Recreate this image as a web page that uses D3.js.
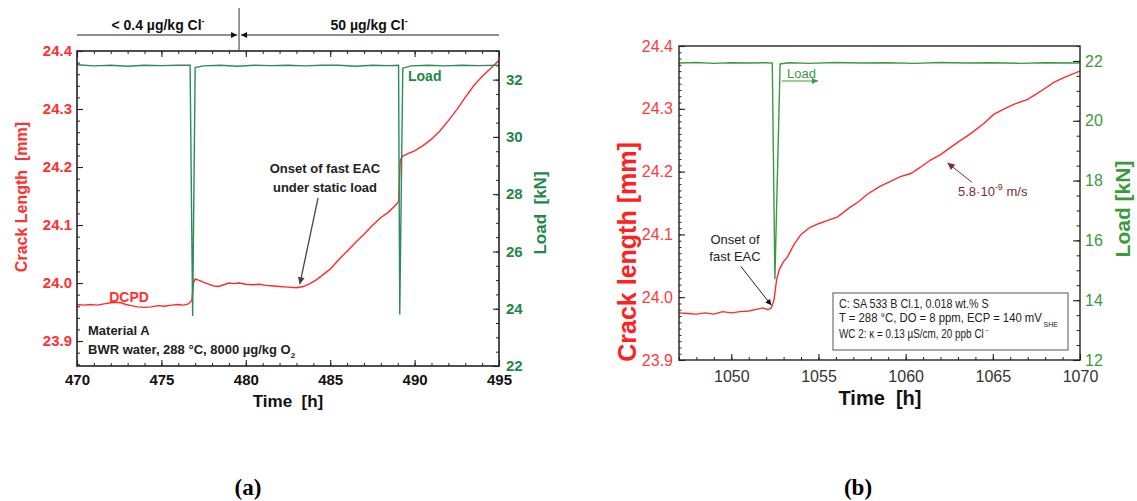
<!DOCTYPE html>
<html><head><meta charset="utf-8">
<script src="https://cdn.jsdelivr.net/npm/d3@7"></script>
<style>
body{margin:0;background:#fff}
svg{display:block}
</style>
</head><body>
<svg id="fig" width="1137" height="501" font-family="Liberation Sans, Arial, sans-serif"></svg>
<script>
// ---------- Panel (a): crack length and load vs time ----------
const aTime = [470.0,470.4,470.8,471.2,471.6,472.0,472.3,472.6,472.9,473.2,473.6,474.0,474.4,474.8,475.2,475.6,476.0,476.3,476.6,476.8,476.9,477.0,477.2,477.5,477.8,478.1,478.4,478.7,479.0,479.3,479.6,480.0,480.4,480.8,481.2,481.6,482.0,482.5,483.0,483.4,483.8,484.2,484.6,485.0,485.5,486.0,486.5,487.0,487.5,488.0,488.4,488.8,489.05,489.15,489.3,489.6,490.0,490.5,491.0,491.5,492.0,492.5,493.0,493.5,494.0,494.5,495.0];
const aCrack = [23.963,23.962,23.963,23.962,23.964,23.966,23.967,23.966,23.963,23.961,23.959,23.958,23.959,23.961,23.960,23.962,23.963,23.962,23.964,23.970,24.000,24.007,24.005,24.001,23.998,23.995,23.994,23.997,24.000,23.999,24.000,23.998,23.997,23.998,23.996,23.995,23.994,23.993,23.992,23.994,23.999,24.006,24.015,24.024,24.040,24.055,24.070,24.084,24.099,24.113,24.121,24.132,24.140,24.212,24.219,24.223,24.228,24.237,24.248,24.262,24.280,24.299,24.320,24.340,24.356,24.370,24.384];
const aLoadTime = [470.0,471.0,472.0,473.0,474.0,475.0,476.0,476.7,476.85,477.0,477.5,478.5,479.5,480.5,481.5,482.5,483.5,484.5,485.5,486.5,487.5,488.5,489.05,489.12,489.3,489.8,490.8,491.8,492.8,493.8,495.0];
const aLoad = [32.52,32.48,32.50,32.47,32.50,32.49,32.50,32.50,23.75,32.42,32.48,32.50,32.47,32.50,32.49,32.50,32.48,32.50,32.50,32.47,32.50,32.49,32.50,23.80,32.40,32.48,32.50,32.48,32.50,32.49,32.50];
const aTimeTicks = [470,475,480,485,490,495];
const aCrackTicks = [23.9,24.0,24.1,24.2,24.3,24.4];
const aLoadTicks = [22,24,26,28,30,32];
const aChlorideSwitch = 479.6;

// ---------- Panel (b): crack length and load vs time ----------
const bTime = [1047.0,1047.5,1048.0,1048.5,1049.0,1049.5,1050.0,1050.5,1051.0,1051.5,1051.8,1052.1,1052.3,1052.45,1052.6,1052.75,1053.0,1053.2,1053.6,1054.0,1054.5,1055.0,1055.5,1056.1,1056.8,1057.3,1057.8,1058.5,1059.1,1059.7,1060.3,1060.85,1061.4,1062.0,1062.5,1063.0,1063.5,1063.9,1064.5,1065.05,1065.6,1066.2,1067.0,1067.75,1068.5,1069.1,1070.0];
const bCrack = [23.975,23.974,23.973,23.975,23.973,23.977,23.975,23.977,23.978,23.981,23.983,23.980,23.983,23.996,24.028,24.044,24.057,24.063,24.084,24.100,24.111,24.117,24.122,24.128,24.143,24.152,24.164,24.176,24.184,24.192,24.197,24.207,24.218,24.227,24.237,24.247,24.256,24.264,24.277,24.291,24.299,24.307,24.315,24.328,24.342,24.350,24.360];
const bLoadTime = [1047.0,1048.0,1049.0,1050.0,1051.0,1052.0,1052.35,1052.5,1052.8,1053.3,1054.5,1056.0,1057.5,1059.0,1060.5,1062.0,1063.5,1065.0,1066.5,1068.0,1070.0];
const bLoad = [21.93,21.95,21.92,21.94,21.93,21.94,21.93,14.70,21.90,21.94,21.92,21.95,21.93,21.94,21.92,21.95,21.93,21.94,21.92,21.94,21.93];
const bTimeTicks = [1050,1055,1060,1065,1070];
const bCrackTicks = [23.9,24.0,24.1,24.2,24.3,24.4];
const bLoadTicks = [12,14,16,18,20,22];

const RED = "#ff2b2b", RED_TXT = "#ff3030";
const GREEN_A = "#2e8b57", GREEN_A_TXT = "#23874a";
const GREEN_B = "#3c9a3c";
const FONT = "Liberation Sans, Arial, sans-serif";
const SERIF = "Liberation Serif, Times New Roman, serif";

const svg = d3.select("#fig");
svg.append("rect").attr("width",1137).attr("height",501).attr("fill","#fff");
const defs = svg.append("defs");

function arrowMarker(id, color, w, h) {
  defs.append("marker").attr("id", id)
    .attr("viewBox","0 0 10 10").attr("refX",10).attr("refY",5)
    .attr("markerUnits","userSpaceOnUse")
    .attr("markerWidth",w).attr("markerHeight",h)
    .attr("orient","auto-start-reverse")
    .append("path").attr("d","M0,0L10,5L0,10z").attr("fill",color);
}
arrowMarker("arrK", "#111", 7, 6);
arrowMarker("arrG", "#444", 8, 7);
arrowMarker("arrGreen", GREEN_B, 8, 6);
arrowMarker("arrBrown", "#7d2b2b", 8, 7);

function styleAxis(g, color, size, weight) {
  g.attr("font-family", FONT);
  g.select(".domain").remove();
  g.selectAll(".tick line").attr("stroke","#222").attr("stroke-width",1.1);
  g.selectAll(".tick text").attr("fill",color).attr("font-size",size).attr("font-weight",weight);
}
function minorAxis(g, gen) {
  g.call(gen); g.select(".domain").remove();
  g.selectAll(".tick line").attr("stroke","#222").attr("stroke-width",1);
}
function range(a, b, step) { return d3.range(Math.round((b - a) / step) + 1).map(i => +(a + i * step).toFixed(4)); }

// ======================= Panel (a) =======================
const A = {x0:77, x1:499, y0:51, y1:366};
const xA = d3.scaleLinear().domain([470,495]).range([A.x0,A.x1]);
const yA = d3.scaleLinear().domain([23.857,24.4]).range([A.y1,A.y0]);
const yA2 = d3.scaleLinear().domain([22,33]).range([A.y1,A.y0]);
const gA = svg.append("g");

defs.append("clipPath").attr("id","clipA").append("rect")
  .attr("x",A.x0).attr("y",A.y0).attr("width",A.x1-A.x0).attr("height",A.y1-A.y0);

// minor ticks
minorAxis(gA.append("g").attr("transform",`translate(0,${A.y1})`), d3.axisBottom(xA).tickValues(range(470,495,1)).tickSize(-3).tickFormat(""));
minorAxis(gA.append("g").attr("transform",`translate(0,${A.y0})`), d3.axisTop(xA).tickValues(range(470,495,1)).tickSize(-3).tickFormat(""));
minorAxis(gA.append("g").attr("transform",`translate(${A.x0},0)`), d3.axisLeft(yA).tickValues(range(23.86,24.4,0.02)).tickSize(-3).tickFormat(""));
minorAxis(gA.append("g").attr("transform",`translate(${A.x1},0)`), d3.axisRight(yA2).tickValues(range(22,33,0.5)).tickSize(-3).tickFormat(""));

// major ticks + labels
styleAxis(gA.append("g").attr("transform",`translate(0,${A.y1})`)
  .call(d3.axisBottom(xA).tickValues(aTimeTicks).tickSize(-6).tickPadding(8).tickFormat(d3.format("d"))), "#111", 15, "bold");
styleAxis(gA.append("g").attr("transform",`translate(0,${A.y0})`)
  .call(d3.axisTop(xA).tickValues(aTimeTicks).tickSize(-6).tickFormat("")), "#111", 15, "bold");
styleAxis(gA.append("g").attr("transform",`translate(${A.x0},0)`)
  .call(d3.axisLeft(yA).tickValues(aCrackTicks).tickSize(-6).tickPadding(5).tickFormat(d3.format(".1f"))), RED_TXT, 15, "bold");
styleAxis(gA.append("g").attr("transform",`translate(${A.x1},0)`)
  .call(d3.axisRight(yA2).tickValues(aLoadTicks).tickSize(-6).tickPadding(7).tickFormat(d3.format("d"))), GREEN_A_TXT, 15, "bold");

// data lines
const lineA = d3.line().x(d => xA(d[0])).y(d => yA(d[1]));
const lineA2 = d3.line().x(d => xA(d[0])).y(d => yA2(d[1]));
gA.append("path").datum(d3.zip(aTime,aCrack)).attr("d",lineA).attr("fill","none")
  .attr("stroke",RED).attr("stroke-width",1.4).attr("clip-path","url(#clipA)");
gA.append("path").datum(d3.zip(aLoadTime,aLoad)).attr("d",lineA2).attr("fill","none")
  .attr("stroke",GREEN_A).attr("stroke-width",1.4).attr("clip-path","url(#clipA)");

// frame
gA.append("rect").attr("x",A.x0).attr("y",A.y0).attr("width",A.x1-A.x0).attr("height",A.y1-A.y0)
  .attr("fill","none").attr("stroke","#222").attr("stroke-width",1.6);

// chloride periods above the plot
const xs = xA(aChlorideSwitch);
gA.append("line").attr("x1",xs).attr("x2",xs).attr("y1",8).attr("y2",A.y0).attr("stroke","#555").attr("stroke-width",1.2);
gA.append("line").attr("x1",A.x0).attr("x2",xs-2).attr("y1",35).attr("y2",35)
  .attr("stroke","#222").attr("stroke-width",1.1).attr("marker-end","url(#arrK)");
gA.append("line").attr("x1",xs+2).attr("x2",A.x1).attr("y1",35).attr("y2",35)
  .attr("stroke","#222").attr("stroke-width",1.1).attr("marker-start","url(#arrK)");
function clLabel(x, txt) {
  const t = gA.append("text").attr("x",x).attr("y",30).attr("text-anchor","middle")
    .attr("font-size",14).attr("font-weight","bold").attr("fill","#111");
  t.append("tspan").text(txt);
  t.append("tspan").attr("font-size",9).attr("dy",-6).text("-");
}
clLabel((A.x0+xs)/2, "< 0.4 µg/kg Cl");
clLabel((xs+A.x1)/2, "50 µg/kg Cl");

// axis titles
gA.append("text").attr("transform","translate(27,197) rotate(-90)").attr("text-anchor","middle")
  .attr("font-size",16).attr("font-weight","bold").attr("fill",RED_TXT).attr("xml:space","preserve").text("Crack Length  [mm]");
gA.append("text").attr("transform","translate(546,213) rotate(-90)").attr("text-anchor","middle")
  .attr("font-size",17).attr("font-weight","bold").attr("fill",GREEN_A_TXT).attr("xml:space","preserve").text("Load  [kN]");
gA.append("text").attr("x",(A.x0+A.x1)/2).attr("y",407).attr("text-anchor","middle")
  .attr("font-size",17).attr("font-weight","bold").attr("fill","#111").attr("xml:space","preserve").text("Time  [h]");

// in-plot labels
gA.append("text").attr("x",129).attr("y",302).attr("text-anchor","middle")
  .attr("font-size",14).attr("font-weight","bold").attr("fill",RED_TXT).text("DCPD");
gA.append("text").attr("x",408).attr("y",81)
  .attr("font-size",14).attr("font-weight","bold").attr("fill",GREEN_A_TXT).text("Load");
gA.append("text").attr("x",88).attr("y",335).attr("font-size",13).attr("font-weight","bold").attr("fill","#222").text("Material A");
const bwr = gA.append("text").attr("x",88).attr("y",354).attr("font-size",13).attr("font-weight","bold").attr("fill","#222");
bwr.append("tspan").text("BWR water, 288 °C, 8000 µg/kg O");
bwr.append("tspan").attr("font-size",8).attr("dy",4).text("2");

gA.append("text").attr("x",325).attr("y",173).attr("text-anchor","middle")
  .attr("font-size",13).attr("font-weight","bold").attr("fill","#222").text("Onset of fast EAC");
gA.append("text").attr("x",325).attr("y",192).attr("text-anchor","middle")
  .attr("font-size",13).attr("font-weight","bold").attr("fill","#222").text("under static load");
gA.append("line").attr("x1",xA(484.28)).attr("y1",yA(24.147)).attr("x2",xA(483.2)).attr("y2",yA(23.998))
  .attr("stroke","#444").attr("stroke-width",1.3).attr("marker-end","url(#arrG)");

// ======================= Panel (b) =======================
const B = {x0:679, x1:1080, y0:46, y1:360};
const xB = d3.scaleLinear().domain([1047,1070]).range([B.x0,B.x1]);
const yB = d3.scaleLinear().domain([23.9,24.4]).range([B.y1,B.y0]);
const yB2 = d3.scaleLinear().domain([12,22.5]).range([B.y1,B.y0]);
const gB = svg.append("g");

defs.append("clipPath").attr("id","clipB").append("rect")
  .attr("x",B.x0).attr("y",B.y0).attr("width",B.x1-B.x0).attr("height",B.y1-B.y0);

minorAxis(gB.append("g").attr("transform",`translate(0,${B.y1})`), d3.axisBottom(xB).tickValues(range(1047,1070,1)).tickSize(-3).tickFormat(""));
minorAxis(gB.append("g").attr("transform",`translate(${B.x0},0)`), d3.axisLeft(yB).tickValues(range(23.9,24.4,0.01)).tickSize(-2.5).tickFormat(""));
minorAxis(gB.append("g").attr("transform",`translate(${B.x1},0)`), d3.axisRight(yB2).tickValues(range(12,22.5,0.5)).tickSize(-3.5).tickFormat(""));

styleAxis(gB.append("g").attr("transform",`translate(0,${B.y1})`)
  .call(d3.axisBottom(xB).tickValues(bTimeTicks).tickSize(-6).tickPadding(11).tickFormat(d3.format("d"))), "#333", 16, "normal");
styleAxis(gB.append("g").attr("transform",`translate(${B.x0},0)`)
  .call(d3.axisLeft(yB).tickValues(bCrackTicks).tickSize(-6).tickPadding(6).tickFormat(d3.format(".1f"))), "#ff3b3b", 16, "normal");
styleAxis(gB.append("g").attr("transform",`translate(${B.x1},0)`)
  .call(d3.axisRight(yB2).tickValues(bLoadTicks).tickSize(-7).tickPadding(5).tickFormat(d3.format("d"))), GREEN_B, 16, "normal");

const lineB = d3.line().x(d => xB(d[0])).y(d => yB(d[1]));
const lineB2 = d3.line().x(d => xB(d[0])).y(d => yB2(d[1]));
gB.append("path").datum(d3.zip(bTime,bCrack)).attr("d",lineB).attr("fill","none")
  .attr("stroke",RED).attr("stroke-width",1.4).attr("clip-path","url(#clipB)");
gB.append("path").datum(d3.zip(bLoadTime,bLoad)).attr("d",lineB2).attr("fill","none")
  .attr("stroke",GREEN_B).attr("stroke-width",1.4).attr("clip-path","url(#clipB)");

gB.append("rect").attr("x",B.x0).attr("y",B.y0).attr("width",B.x1-B.x0).attr("height",B.y1-B.y0)
  .attr("fill","none").attr("stroke","#222").attr("stroke-width",1.4);

// axis titles
gB.append("text").attr("transform","translate(636,252) rotate(-90)").attr("text-anchor","middle")
  .attr("font-size",25).attr("font-weight","bold").attr("fill","#ff2020").text("Crack length [mm]");
gB.append("text").attr("transform","translate(1130,209) rotate(-90)").attr("text-anchor","middle")
  .attr("font-size",21).attr("font-weight","bold").attr("fill",GREEN_B).text("Load [kN]");
gB.append("text").attr("x",880).attr("y",405).attr("text-anchor","middle")
  .attr("font-size",20).attr("font-weight","bold").attr("fill","#111").attr("xml:space","preserve").text("Time  [h]");

// load marker
gB.append("text").attr("x",787).attr("y",78).attr("font-size",13).attr("fill",GREEN_B).text("Load");
gB.append("line").attr("x1",xB(1052.9)).attr("x2",xB(1054.97)).attr("y1",yB2(21.33)).attr("y2",yB2(21.33))
  .attr("stroke",GREEN_B).attr("stroke-width",1.2).attr("marker-end","url(#arrGreen)");

// onset annotation
gB.append("text").attr("x",735).attr("y",244).attr("text-anchor","middle").attr("font-size",13).attr("fill","#222").text("Onset of");
gB.append("text").attr("x",735).attr("y",261).attr("text-anchor","middle").attr("font-size",13).attr("fill","#222").text("fast EAC");
gB.append("line").attr("x1",xB(1050.55)).attr("y1",yB(24.049)).attr("x2",xB(1052.3)).attr("y2",yB(23.987))
  .attr("stroke","#222").attr("stroke-width",1).attr("marker-end","url(#arrK)");

// growth-rate annotation
const rate = gB.append("text").attr("x",958).attr("y",196).attr("font-size",13).attr("fill","#7d2b2b");
rate.append("tspan").text("5.8·10");
rate.append("tspan").attr("font-size",9).attr("dy",-6).text("-9");
rate.append("tspan").attr("dy",6).text(" m/s");
gB.append("line").attr("x1",xB(1063.8)).attr("y1",yB(24.183)).attr("x2",xB(1062.4)).attr("y2",yB(24.214))
  .attr("stroke","#7d2b2b").attr("stroke-width",1).attr("marker-end","url(#arrBrown)");

// test conditions box: condensed lines, each scaled horizontally to its width
gB.append("rect").attr("x",833).attr("y",293).attr("width",235).attr("height",57)
  .attr("fill","#fff").attr("stroke","#555").attr("stroke-width",1);
function condensed(x, y, width, txt) {
  const t = gB.append("text").attr("font-size",12.5).attr("fill","#222").text(txt);
  const natural = t.node().getComputedTextLength();
  t.attr("transform",`translate(${x},${y}) scale(${width / natural},1)`);
  return x + width;
}
condensed(839, 308, 150, "C: SA 533 B Cl.1, 0.018 wt.% S");
const endMV = condensed(839, 322, 203, "T = 288 °C, DO = 8 ppm, ECP = 140 mV");
gB.append("text").attr("x",endMV + 1.5).attr("y",327).attr("font-size",7).attr("fill","#222").text("SHE");
const endCl = condensed(839, 338, 145, "WC 2: κ = 0.13 µS/cm, 20 ppb Cl");
gB.append("text").attr("x",endCl + 1.5).attr("y",332).attr("font-size",8).attr("fill","#222").text("-");

// panel captions
svg.append("text").attr("x",248).attr("y",495).attr("text-anchor","middle")
  .attr("font-family",SERIF).attr("font-size",23).attr("font-weight","bold").attr("fill","#000").text("(a)");
svg.append("text").attr("x",858).attr("y",495).attr("text-anchor","middle")
  .attr("font-family",SERIF).attr("font-size",23).attr("font-weight","bold").attr("fill","#000").text("(b)");
</script>
</body></html>
